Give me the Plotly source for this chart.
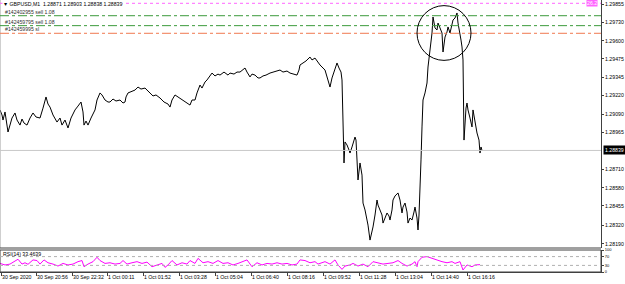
import plotly.graph_objects as go

# ---------------- data ----------------
# bar position (chart index units) and close price
bar = [0, 2, 3, 5, 8, 10, 12, 15, 17, 20, 22, 24, 27, 30, 33, 36, 40, 43, 46, 48, 50, 53, 57, 60, 62, 65, 68, 71, 75, 78,
       81, 83, 84, 86, 88, 91, 95, 97, 100, 102, 105, 108, 110, 113, 116, 120, 123, 125, 126, 128, 131, 135, 138, 141, 145,
       148, 150, 153, 156, 160, 164, 168, 170, 172, 175, 178, 180, 184, 187, 190, 192, 195, 197, 200, 202, 205, 207, 209,
       212, 215, 218, 220, 224, 228, 230, 234, 237, 240, 243, 245, 247, 250, 252, 255, 258, 260, 263, 266, 270, 273, 277,
       280, 283, 287, 290, 294, 297, 299, 300, 303, 306, 310, 312, 315, 318, 320, 325, 328, 330, 332, 334, 337, 339, 341,
       342, 343, 344, 345, 347, 349, 350, 352, 353, 355, 356, 357, 358, 360, 362, 363, 365, 367, 368, 370, 371, 373, 375,
       377, 378, 380, 382, 383, 385, 387, 389, 390, 392, 393, 395, 398, 400, 402, 403, 405, 407, 408, 410, 412, 414, 415,
       417, 418, 419, 420, 421, 422, 423, 425, 427, 428, 429, 430, 431, 432, 433, 434, 435, 437, 438, 440, 442, 443, 444,
       445, 447, 448, 450, 452, 453, 455, 457, 458, 460, 461, 462, 463, 464, 465, 466, 467, 468, 470, 472, 473, 475, 477,
       479, 480, 481, 482]
close = [1.29120, 1.29085, 1.29050, 1.29106, 1.28967, 1.29009, 1.29064, 1.29099, 1.29050, 1.29015, 1.29057, 1.29029,
         1.29015, 1.29064, 1.29099, 1.29071, 1.29064, 1.29133, 1.29210, 1.29161, 1.29140, 1.29085, 1.29036, 1.29064,
         1.29015, 1.29050, 1.28995, 1.29064, 1.29120, 1.29147, 1.29175, 1.29106, 1.29015, 1.29043, 1.29015, 1.29064,
         1.29120, 1.29189, 1.29238, 1.29224, 1.29189, 1.29175, 1.29175, 1.29196, 1.29182, 1.29189, 1.29168, 1.29175,
         1.29210, 1.29238, 1.29245, 1.29258, 1.29279, 1.29265, 1.29272, 1.29251, 1.29238, 1.29217, 1.29224, 1.29203,
         1.29175, 1.29161, 1.29140, 1.29189, 1.29224, 1.29210, 1.29203, 1.29182, 1.29168, 1.29154, 1.29189, 1.29189,
         1.29238, 1.29293, 1.29272, 1.29314, 1.29328, 1.29349, 1.29376, 1.29356, 1.29369, 1.29362, 1.29383, 1.29362,
         1.29376, 1.29369, 1.29383, 1.29383, 1.29397, 1.29411, 1.29383, 1.29349, 1.29369, 1.29362, 1.29342, 1.29342,
         1.29356, 1.29362, 1.29376, 1.29383, 1.29390, 1.29397, 1.29383, 1.29390, 1.29376, 1.29369, 1.29362, 1.29397,
         1.29432, 1.29446, 1.29460, 1.29487, 1.29467, 1.29480, 1.29453, 1.29432, 1.29397, 1.29328, 1.29279, 1.29342,
         1.29383, 1.29446, 1.29411, 1.29383, 1.29328, 1.28911, 1.28752, 1.28898, 1.28877, 1.28842, 1.28821, 1.28863,
         1.28891, 1.28932, 1.28911, 1.28738, 1.28634, 1.28752, 1.28668, 1.28474, 1.28426, 1.28356, 1.28321, 1.28217,
         1.28245, 1.28308, 1.28391, 1.28495, 1.28460, 1.28426, 1.28391, 1.28335, 1.28370, 1.28405, 1.28384, 1.28356,
         1.28426, 1.28495, 1.28523, 1.28544, 1.28495, 1.28405, 1.28446, 1.28474, 1.28412, 1.28335, 1.28370, 1.28356,
         1.28412, 1.28446, 1.28370, 1.28287, 1.28391, 1.28544, 1.28773, 1.29002, 1.29189, 1.29238, 1.29307, 1.29418,
         1.29480, 1.29536, 1.29605, 1.29654, 1.29765, 1.29709, 1.29689, 1.29675, 1.29723, 1.29689, 1.29654, 1.29522,
         1.29571, 1.29626, 1.29661, 1.29696, 1.29654, 1.29703, 1.29744, 1.29758, 1.29793, 1.29723, 1.29654, 1.29605,
         1.29557, 1.29467, 1.28911, 1.29085, 1.29133, 1.29168, 1.29120, 1.29064, 1.29002, 1.29120, 1.29036, 1.28960,
         1.28911, 1.28821, 1.28863, 1.28839]

rsi_bar = [0, 5, 10, 15, 18, 22, 25, 28, 33, 37, 40, 44, 48, 53, 58, 63, 68, 73, 78, 82, 84, 88, 93, 97, 100, 105, 110,
           115, 120, 123, 127, 132, 137, 142, 147, 152, 157, 162, 165, 168, 172, 177, 182, 187, 190, 195, 198, 203, 208,
           213, 218, 223, 228, 233, 238, 243, 247, 252, 257, 262, 267, 272, 277, 282, 287, 292, 297, 300, 305, 310, 315,
           318, 325, 330, 335, 338, 342, 345, 350, 353, 358, 363, 368, 373, 378, 383, 388, 393, 398, 402, 407, 412, 415,
           417, 418, 422, 427, 432, 437, 442, 447, 452, 455, 460, 463, 467, 472, 475, 480]
rsi = [39, 32, 36, 52, 58, 36, 42, 35, 55, 52, 36, 55, 42, 36, 27, 39, 32, 36, 47, 52, 24, 36, 47, 67, 52, 39, 42, 36, 39,
       52, 36, 42, 47, 39, 45, 24, 32, 39, 21, 32, 52, 32, 42, 36, 52, 39, 62, 42, 47, 39, 52, 39, 42, 32, 39, 47, 55, 24,
       42, 32, 39, 36, 42, 36, 39, 32, 36, 55, 52, 42, 47, 36, 47, 36, 55, 32, 12, 27, 32, 39, 27, 36, 24, 47, 42, 36, 39,
       42, 52, 39, 27, 36, 47, 24, 47, 67, 70, 62, 55, 47, 42, 47, 39, 47, 9, 32, 24, 32, 33.4639]

tick_bars = [1, 36, 72, 107, 143, 179, 215, 251, 287, 323, 359, 395, 431, 467]
tick_labels = ["30 Sep 2020", "30 Sep 20:56", "30 Sep 22:32", "1 Oct 00:11", "1 Oct 01:52", "1 Oct 03:28",
               "1 Oct 05:04", "1 Oct 06:40", "1 Oct 08:16", "1 Oct 09:52", "1 Oct 11:28", "1 Oct 13:04",
               "1 Oct 14:40", "1 Oct 16:16"]
price_ticks = [1.29855, 1.29730, 1.29600, 1.29475, 1.29345, 1.29220, 1.29090, 1.28965,
               1.28710, 1.28580, 1.28455, 1.28320, 1.28190]
price_range = [1.28162, 1.29883]
bar_range = [0, 601]

current_price = 1.28839
high_line = 1.29860
order_lines = [1.29774, 1.29705, 1.29652]
order_labels = ["#142402955 sell 1.08", "#142459795 sell 1.08", "#142459995 sl"]
order_colors = ["#3c9a3c", "#3c9a3c", "#f07850"]
rsi_levels = [70, 30]
rsi_ticks = [100, 70, 30, 0]
title_text = "▼ GBPUSD,M1  1.28871 1.28903 1.28838 1.28839"
rsi_title = "RSI(14) 33.4639"
circle_center = (444, 1.29654)
circle_rx = 27
circle_ry = 0.00190

FONT = "Liberation Sans"
FS = 5.2

fig = go.Figure()
fig.add_trace(go.Scatter(x=bar, y=close, mode="lines", line=dict(color="black", width=1),
                         xaxis="x", yaxis="y", hoverinfo="skip", showlegend=False))
fig.add_trace(go.Scatter(x=rsi_bar, y=rsi, mode="lines", line=dict(color="#ff00ff", width=1),
                         xaxis="x2", yaxis="y2", hoverinfo="skip", showlegend=False))

xdom = [0, 601 / 625]
main_dom = [1 - 248 / 284, 1]
rsi_dom = [1 - 272 / 284, 1 - 250 / 284]

fig.update_layout(
    width=625, height=284, margin=dict(l=0, r=0, t=0, b=0, autoexpand=False),
    paper_bgcolor="white", plot_bgcolor="white", showlegend=False,
    font=dict(family=FONT, size=FS, color="black"),
    xaxis=dict(domain=xdom, range=bar_range, showticklabels=False, showgrid=False, zeroline=False,
               anchor="y", fixedrange=True, automargin=False),
    yaxis=dict(domain=main_dom, range=price_range, side="right", anchor="x", tickvals=price_ticks,
               ticktext=[f"{v:.5f}" for v in price_ticks], ticks="outside", ticklen=2, tickcolor="#404040",
               showgrid=False, zeroline=False, showline=True, linecolor="#404040", linewidth=1,
               tickfont=dict(size=FS, family=FONT), automargin=False),
    xaxis2=dict(domain=xdom, range=bar_range, anchor="y2", tickvals=tick_bars, ticktext=tick_labels,
                ticks="outside", ticklen=3, tickcolor="#404040", ticklabelposition="outside right",
                tickangle=0, showgrid=False, zeroline=False, showline=True, linecolor="#404040",
                tickfont=dict(size=FS, family=FONT), automargin=False),
    yaxis2=dict(domain=rsi_dom, range=[0, 100], side="right", anchor="x2", tickvals=rsi_ticks,
                ticks="outside", ticklen=2, tickcolor="#404040", showgrid=False, zeroline=False,
                showline=True, linecolor="#404040", tickfont=dict(size=4, family=FONT), automargin=False),
)

shapes = []
# main frame (left border)
shapes.append(dict(type="line", xref="x domain", yref="y domain", x0=0, x1=0, y0=0, y1=1,
                   line=dict(color="#a0a0a0", width=1)))
shapes.append(dict(type="line", xref="x domain", yref="y domain", x0=0, x1=1, y0=0, y1=0,
                   line=dict(color="#404040", width=1)))
# RSI frame
shapes.append(dict(type="rect", xref="x2 domain", yref="y2 domain", x0=0, x1=1, y0=0, y1=1,
                   line=dict(color="#404040", width=1)))
# current price line
shapes.append(dict(type="line", xref="x domain", yref="y", x0=0, x1=1, y0=current_price, y1=current_price,
                   line=dict(color="#c8c8c8", width=1)))
# high line (pink dotted)
shapes.append(dict(type="line", xref="x domain", yref="y", x0=0, x1=1, y0=high_line, y1=high_line,
                   line=dict(color="#ff66ff", width=1, dash="dot")))
for lv, col in zip(order_lines, order_colors):
    shapes.append(dict(type="line", xref="x domain", yref="y", x0=0, x1=1, y0=lv, y1=lv,
                       line=dict(color=col, width=1, dash="dashdot")))
for lv in rsi_levels:
    shapes.append(dict(type="line", xref="x2 domain", yref="y2", x0=0, x1=1, y0=lv, y1=lv,
                       line=dict(color="#b0b0b0", width=1, dash="dot")))
# circle
cx, cy = circle_center
shapes.append(dict(type="circle", xref="x", yref="y", x0=cx - circle_rx, x1=cx + circle_rx,
                   y0=cy - circle_ry, y1=cy + circle_ry, line=dict(color="black", width=1)))
fig.update_layout(shapes=shapes)

ann = []
ann.append(dict(text=title_text, xref="x domain", yref="y domain", x=0.004, y=1, xanchor="left", yanchor="top",
                showarrow=False, font=dict(size=FS, color="black"), bgcolor="white", borderpad=0))
for lv, lab in zip(order_lines, order_labels):
    ann.append(dict(text=lab, xref="x domain", yref="y", x=0.006, y=lv, xanchor="left", yanchor="bottom",
                    showarrow=False, font=dict(size=FS, color="#303030"), borderpad=0))
ann.append(dict(text="26.2", xref="x domain", yref="y", x=0.995, y=high_line, xanchor="right", yanchor="middle",
                showarrow=False, font=dict(size=FS, color="white"), bgcolor="#ff66ff", borderpad=0))
ann.append(dict(text=f"{current_price:.5f}", xref="paper", yref="y", x=601 / 625 + 0.003, y=current_price,
                xanchor="left", yanchor="middle", showarrow=False, font=dict(size=FS, color="white"),
                bgcolor="black", borderpad=1))
ann.append(dict(text=rsi_title, xref="x2 domain", yref="y2 domain", x=0.004, y=1, xanchor="left", yanchor="top",
                showarrow=False, font=dict(size=FS, color="black"), borderpad=0))
fig.update_layout(annotations=ann)

fig.write_html("out.html")
